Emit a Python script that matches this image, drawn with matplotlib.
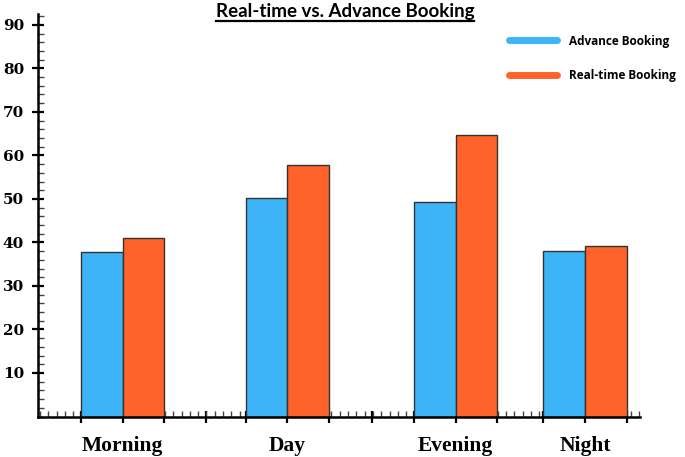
import matplotlib
matplotlib.use("Agg")
import matplotlib.pyplot as plt
from matplotlib.lines import Line2D
from matplotlib.ticker import MultipleLocator
import numpy as np

# ---- data ----
categories = ["Morning", "Day", "Evening", "Night"]
advance = [37.8, 50.3, 49.4, 38.0]
realtime = [41.0, 57.9, 64.7, 39.2]
series_names = ["Advance Booking", "Real-time Booking"]
y_ticks = [10, 20, 30, 40, 50, 60, 70, 80, 90]

# ---- layout ----
group_centers = [0.99, 4.94, 8.99, 12.1]
extra_major = [2.99, 6.97]
bar_w = 1.0
blue = "#3DB4F7"
orange = "#FF632A"

fig = plt.figure(figsize=(6.85, 4.57), dpi=100)
ax = fig.add_axes([38 / 685, 1 - 416.5 / 457, (640 - 38) / 685, (416.5 - 14) / 457])

gc = np.array(group_centers, dtype=float)
ax.bar(gc - bar_w / 2, advance, width=bar_w, color=blue, edgecolor="#333333", linewidth=1.0, zorder=2)
ax.bar(gc + bar_w / 2, realtime, width=bar_w, color=orange, edgecolor="#333333", linewidth=1.0, zorder=2)

ax.set_xlim(-1.05, 13.42)
ax.set_ylim(0, 92.5)

for s in ["top", "right"]:
    ax.spines[s].set_visible(False)
for s in ["left", "bottom"]:
    ax.spines[s].set_linewidth(1.8)
    ax.spines[s].set_zorder(3)

# x ticks: bar edges, group centers and a few extra
major = sorted(set(np.round(np.concatenate([gc - bar_w, gc, gc + bar_w, extra_major]), 3)))
labels = []
for m in major:
    lab = ""
    for c, name in zip(group_centers, categories):
        if abs(m - c) < 1e-6:
            lab = name
    labels.append(lab)
ax.set_xticks(major)
ax.set_xticklabels(labels, fontfamily="Liberation Serif", fontweight="bold", fontsize=15.5)
ax.xaxis.set_minor_locator(MultipleLocator(0.2))
ax.tick_params(axis="x", which="major", direction="inout", length=8, width=1.6, pad=10, colors="black")
ax.tick_params(axis="x", which="minor", direction="in", length=4, width=1.0, color="#444444")

# y ticks
ax.set_yticks(y_ticks)
ax.set_yticklabels([str(v) for v in y_ticks], fontfamily="DejaVu Serif", fontweight="bold", fontsize=11)
ax.yaxis.set_minor_locator(MultipleLocator(2))
ax.tick_params(axis="y", which="major", direction="inout", length=8, width=1.6, pad=6, colors="black")
ax.tick_params(axis="y", which="minor", direction="in", length=4, width=1.0, color="#444444")

# title with underline
title = fig.text(345 / 685, 1 - 12 / 457, "Real-time vs. Advance Booking", ha="center", va="center",
                 fontfamily="Lato", fontweight="bold", fontsize=13.5)
fig.canvas.draw()
bb = title.get_window_extent(renderer=fig.canvas.get_renderer())
inv = fig.transFigure.inverted()
(x0, y0), (x1, y1) = inv.transform([[bb.x0, bb.y0], [bb.x1, bb.y1]])
fig.add_artist(Line2D([x0, x1], [y0 - 0.001, y0 - 0.001], transform=fig.transFigure, color="black", linewidth=1.6))

# legend
handles = [Line2D([0], [0], color=blue, linewidth=5, solid_capstyle="round"),
           Line2D([0], [0], color=orange, linewidth=5, solid_capstyle="round")]
leg = fig.legend(handles, series_names, loc="upper left", bbox_to_anchor=(498 / 685, 1 - 24 / 457),
                 frameon=False, handlelength=4.1, handletextpad=1.0, labelspacing=1.8,
                 prop={"family": "Open Sans", "weight": "bold", "size": 8.5})

fig.savefig("out.png", dpi=100)
